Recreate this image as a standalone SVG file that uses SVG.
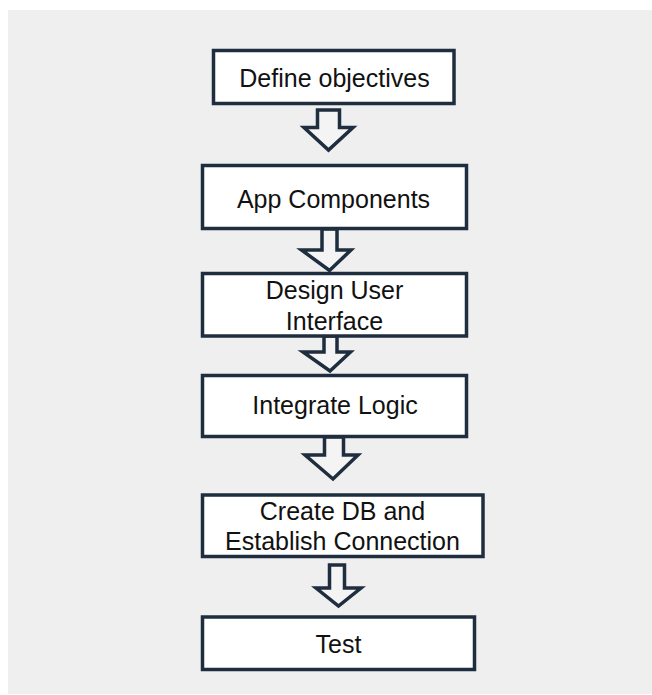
<svg xmlns="http://www.w3.org/2000/svg" width="652" height="695" viewBox="0 0 652 695">
  <style>
    .box { fill: #ffffff; stroke: #1f2e3e; stroke-width: 3.5; }
    .arrow { fill: #f4f4f4; stroke: #1f2e3e; stroke-width: 3.5; stroke-linejoin: miter; }
    .label { font-family: "Liberation Sans", Arial, sans-serif; font-size: 25px; fill: #111111; text-anchor: middle; }
  </style>
  <rect x="0" y="0" width="652" height="695" fill="#ffffff"/>
  <rect x="8" y="10" width="644" height="684" fill="#efefef"/>

  <!-- hollow block arrows between steps -->
  <g id="connectors">
    <path class="arrow" d="M317.5,110 H339.5 V127.5 H353 L328.5,150 L304,127.5 H317.5 Z"/>
    <path class="arrow" d="M322,229 H337 V250 H351 L329.5,270.5 L301.5,250 H322 Z"/>
    <path class="arrow" d="M324,336 H337 V352 H350.5 L330,371 L303,352 H324 Z"/>
    <path class="arrow" d="M324.5,437 H343.5 V455 H358 L333,479 L305,455 H324.5 Z"/>
    <path class="arrow" d="M329.5,565 H344.5 V588 H361 L338.5,606 L316,588 H329.5 Z"/>
  </g>

  <g id="node-objectives">
    <rect class="box" x="213.5" y="50.5" width="240.5" height="53"/>
    <text class="label" x="334.5" y="86.5">Define objectives</text>
  </g>
  <g id="node-components">
    <rect class="box" x="202.5" y="165.5" width="264" height="63"/>
    <text class="label" x="333.5" y="208">App Components</text>
  </g>
  <g id="node-ui">
    <rect class="box" x="202.5" y="273.5" width="264" height="62.5"/>
    <text class="label" x="334.5" y="298.5">Design User</text>
    <text class="label" x="334.5" y="330">Interface</text>
  </g>
  <g id="node-logic">
    <rect class="box" x="202.5" y="375.5" width="264" height="61"/>
    <text class="label" x="335" y="414">Integrate Logic</text>
  </g>
  <g id="node-db">
    <rect class="box" x="202.5" y="495" width="280.5" height="61.5"/>
    <text class="label" x="342.5" y="520">Create DB and</text>
    <text class="label" x="342.5" y="550">Establish Connection</text>
  </g>
  <g id="node-test">
    <rect class="box" x="202.5" y="617" width="272" height="52.5"/>
    <text class="label" x="338.5" y="653">Test</text>
  </g>
</svg>
